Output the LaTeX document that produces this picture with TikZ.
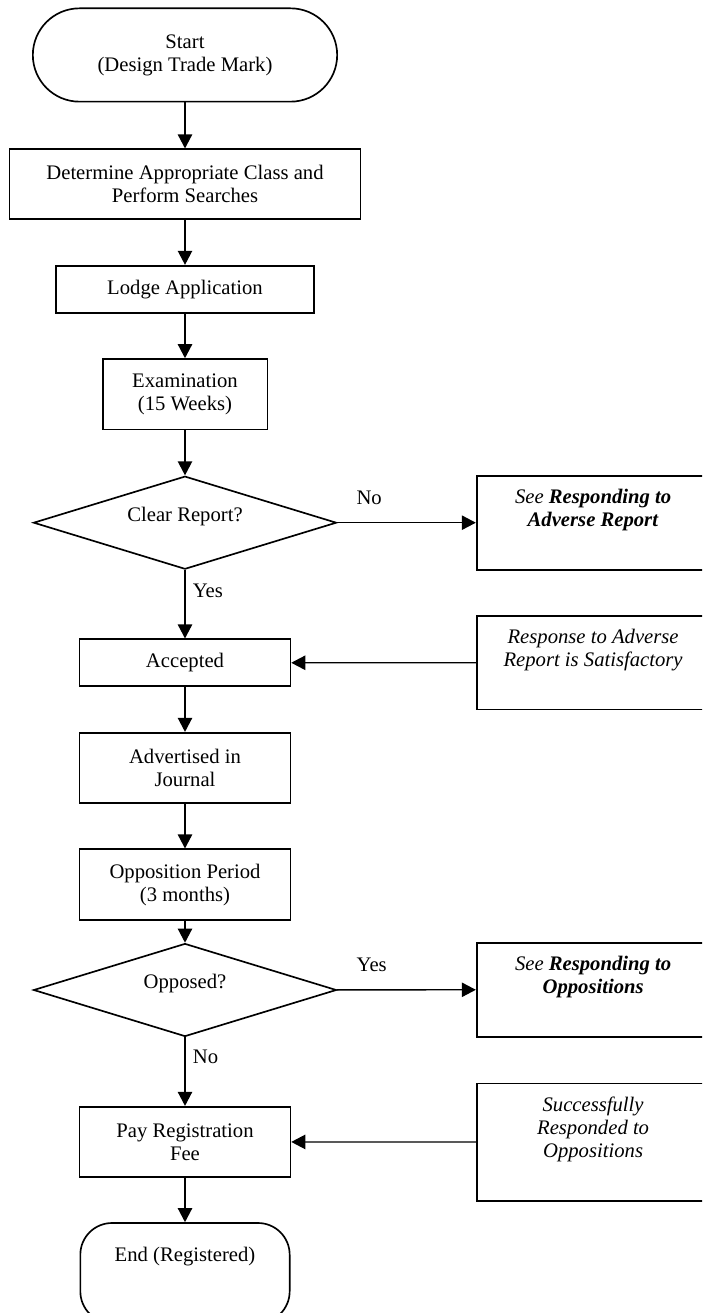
\documentclass[tikz,border=0pt]{standalone}
\usepackage{fontspec}
\setmainfont{Liberation Serif}
\usetikzlibrary{shapes.geometric,arrows.meta}

\begin{document}
\begin{tikzpicture}
		[x=0.6pt, y=-0.6pt, line width=1pt,
		every node/.style={font=\fontsize{12.4}{13.8}\selectfont, align=center},
		box/.style={draw, rectangle, inner sep=2pt},
		terminal/.style={draw, rectangle, rounded corners=#1},
		decision/.style={draw, diamond, aspect=3.26, inner sep=1pt, text depth=10pt,
			minimum width=181.8pt, minimum height=55.8pt},
		side/.style={box, minimum width=139.7pt},
		flow/.style={line width=0.8pt, -{Triangle[length=8.4pt,width=8.6pt]}}]
		\useasboundingbox (0,0) rectangle (702,1313);
		\clip (0,0) rectangle (702,1313);

		% Main column
		\node [terminal=28pt, minimum width=182.6pt, minimum height=56pt] (start) at (185,55) {Start\\(Design Trade Mark)};
		\node [box, minimum width=210.6pt, minimum height=42pt] (determine) at (185,184.3) {Determine Appropriate Class and\\Perform Searches};
		\node [box, minimum width=154.7pt, minimum height=28.2pt] (lodge) at (185,289.2) {Lodge Application};
		\node [box, minimum width=98.8pt, minimum height=42.2pt] (exam) at (185,394.2) {Examination\\(15 Weeks)};
		\node [decision] (clear) at (185,522.7) {Clear Report?};
		\node [box, minimum width=126.5pt, minimum height=28.2pt] (accepted) at (185,662.8) {Accepted};
		\node [box, minimum width=126.5pt, minimum height=42.2pt] (advertised) at (185,767.9) {Advertised in\\Journal};
		\node [box, minimum width=126.5pt, minimum height=42.6pt] (opposition) at (185,884.8) {Opposition Period\\(3 months)};
		\node [decision] (opposed) at (185,990) {Opposed?};
		\node [box, minimum width=126.5pt, minimum height=42.2pt] (pay) at (185,1141.9) {Pay Registration\\Fee};
		\node [terminal=19pt, minimum width=125.6pt, minimum height=60pt, text depth=22pt] (end) at (185,1273) {End (Registered)};

		% Side boxes
		\node [side, minimum height=56.4pt] (seeadverse) at (593.1,522.7) {\textit{See} \textbf{\textit{Responding to}}\\\textbf{\textit{Adverse Report}}\\\strut};
		\node [side, minimum height=56pt] (response) at (593.1,662.7) {\textit{Response to Adverse}\\\textit{Report is Satisfactory}\\\strut};
		\node [side, minimum height=56.4pt] (seeopp) at (593.1,989.7) {\textit{See} \textbf{\textit{Responding to}}\\\textbf{\textit{Oppositions}}\\\strut};
		\node [side, minimum height=70.4pt] (success) at (593.1,1142) {\textit{Successfully}\\\textit{Responded to}\\\textit{Oppositions}\\\strut};

		% Flow
		\draw[flow] (start) -- (determine);
		\draw[flow] (determine) -- (lodge);
		\draw[flow] (lodge) -- (exam);
		\draw[flow] (exam) -- (clear);
		\draw[flow] (clear) -- node[pos=0.23, yshift=15pt] (no1) {No} (seeadverse);
		\draw[flow] (clear) -- node[pos=0.31, right, xshift=1pt] (yes1) {Yes} (accepted);
		\draw[flow] (response) -- (accepted);
		\draw[flow] (accepted) -- (advertised);
		\draw[flow] (advertised) -- (opposition);
		\draw[flow] (opposition) -- (opposed);
		\draw[flow] (opposed) -- node[pos=0.25, yshift=15pt] (yes2) {Yes} (seeopp);
		\draw[flow] (opposed) -- node[pos=0.29, right, xshift=1pt] (no2) {No} (pay);
		\draw[flow] (success) -- (pay);
		\draw[flow] (pay) -- (end);
	\end{tikzpicture}
\end{document}
